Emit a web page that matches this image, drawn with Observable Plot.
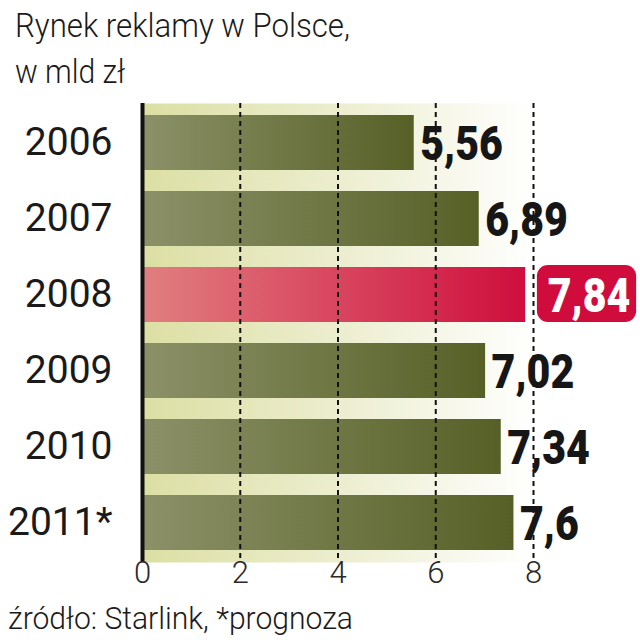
<!DOCTYPE html>
<html>
<head>
<meta charset="utf-8">
<script src="https://cdn.jsdelivr.net/npm/d3@7"></script>
<script src="https://cdn.jsdelivr.net/npm/@observablehq/plot@0.6"></script>
<style>
  html, body { margin: 0; padding: 0; background: #ffffff; }
  #wrap { position: relative; width: 640px; height: 640px; overflow: hidden; }
  #title, #foot, #chart { position: absolute; left: 0; }
  #title { top: 0; }
  #chart { top: 95px; }
  #foot { top: 595px; }
</style>
</head>
<body>
<div id="wrap">
  <svg id="title" width="640" height="95" font-family="Roboto, 'Liberation Sans', sans-serif" font-weight="300" fill="#1a1a1a">
    <text x="15" y="37" font-size="34" textLength="335" lengthAdjust="spacingAndGlyphs">Rynek reklamy w Polsce,</text>
    <text x="15" y="83" font-size="34" textLength="110" lengthAdjust="spacingAndGlyphs">w mld zł</text>
  </svg>
  <div id="chart"></div>
  <svg id="foot" width="640" height="45" font-family="Roboto, 'Liberation Sans', sans-serif" font-weight="300" fill="#1a1a1a">
    <text x="8" y="34" font-size="31" textLength="345" lengthAdjust="spacingAndGlyphs">źródło: Starlink, *prognoza</text>
  </svg>
</div>
<script>
const years = ["2006", "2007", "2008", "2009", "2010", "2011*"];
const values = [5.56, 6.89, 7.84, 7.02, 7.34, 7.6];
const labels = ["5,56", "6,89", "7,84", "7,02", "7,34", "7,6"];
const highlightYear = "2008";
const xTicks = [0, 2, 4, 6, 8];
const gridTicks = [2, 4, 6, 8];

const data = years.map((y, i) => ({year: y, value: values[i], label: labels[i], hi: y === highlightYear}));

const valueFont = "Roboto, 'DejaVu Sans Condensed', sans-serif";

const plot = Plot.plot({
  width: 640,
  height: 505,
  marginLeft: 142,
  marginRight: 107,
  marginTop: 8,
  marginBottom: 38,
  x: {domain: [0, 8], axis: null},
  y: {domain: years, paddingInner: 0.27, paddingOuter: 0.135, axis: null},
  style: {background: "transparent", overflow: "visible"},
  marks: [
    Plot.frame({fill: "url(#bgGrad)", stroke: "none"}),
    Plot.barX(data.filter(d => !d.hi), {x: "value", y: "year", fill: "url(#greenGrad)"}),
    Plot.barX(data.filter(d => d.hi), {x: "value", y: "year", fill: "url(#redGrad)"}),
    Plot.ruleX(gridTicks, {stroke: "#111", strokeWidth: 2, strokeDasharray: "5,4"}),
    Plot.ruleX([0], {stroke: "#111", strokeWidth: 4}),
    Plot.barX(data.filter(d => d.hi), {x1: d => d.value + 0.24, x2: d => d.value + 2.27, y: "year", fill: "#cf0c3c", rx: 11, insetTop: -2}),
    Plot.text(data.filter(d => !d.hi), {x: "value", y: "year", text: "label", textAnchor: "start",
      dx: 6, dy: 1, fill: "#161616", fontSize: 49, fontWeight: 900, fontFamily: valueFont}),
    Plot.text(data.filter(d => d.hi), {x: "value", y: "year", text: "label", textAnchor: "start",
      dx: 22, dy: 1, fill: "#ffffff", fontSize: 49, fontWeight: 900, fontFamily: valueFont}),
    Plot.text(data, {y: "year", text: "year", frameAnchor: "left", textAnchor: "end", dx: -30,
      fill: "#1a1a1a", fontSize: 39, fontWeight: 400, fontFamily: "Roboto, 'Liberation Sans', sans-serif"}),
    Plot.text(xTicks, {x: d => d, text: d => String(d), frameAnchor: "bottom", dy: 20,
      fill: "#2a2a2a", fontSize: 31, fontWeight: 300, fontFamily: "Roboto, 'Liberation Sans', sans-serif"})
  ]
});

const svg = d3.select(plot);
const defs = svg.insert("defs", ":first-child");
function grad(id, stops) {
  const g = defs.append("linearGradient").attr("id", id).attr("x1", "0").attr("x2", "1").attr("y1", "0").attr("y2", "0");
  stops.forEach(([o, c]) => g.append("stop").attr("offset", o).attr("stop-color", c));
}
grad("bgGrad", [[0, "#dcdfa3"], [0.55, "#eeefd3"], [1, "#ffffff"]]);
grad("greenGrad", [[0, "#8c9168"], [1, "#566026"]]);
grad("redGrad", [[0, "#e17f80"], [1, "#cf0e3d"]]);

// condense the value labels horizontally (narrow bold face as in the original)
const labelSet = new Set(labels);
svg.selectAll("text").each(function() {
  if (!labelSet.has(this.textContent)) return;
  let t = this.getAttribute("transform");
  if (!t) {
    const x = +(this.getAttribute("x") || 0), y = +(this.getAttribute("y") || 0);
    this.removeAttribute("x"); this.removeAttribute("y");
    t = `translate(${x},${y})`;
  }
  this.setAttribute("transform", t + " scale(0.84,1)");
});

document.getElementById("chart").appendChild(plot);
</script>
</body>
</html>
